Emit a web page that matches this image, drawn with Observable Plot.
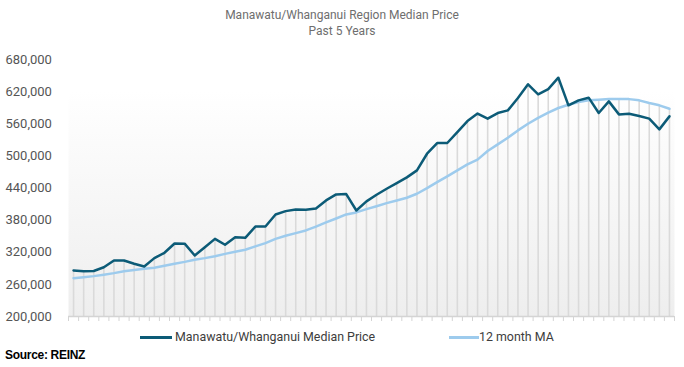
<!DOCTYPE html>
<html>
<head>
<meta charset="utf-8">
<script src="https://cdn.jsdelivr.net/npm/d3@7"></script>
<script src="https://cdn.jsdelivr.net/npm/@observablehq/plot@0.6"></script>
<style>
  html, body { margin: 0; padding: 0; background: #fff; }
  body { width: 684px; height: 367px; position: relative; overflow: hidden; font-family: Roboto, "Liberation Sans", sans-serif; }
  #title { position: absolute; left: 0; top: 7px; width: 684px; text-align: center; color: #6e6e6e; font-size: 12px; line-height: 16px; }
  #chart { position: absolute; left: 0; top: 45px; }
  .leg { position: absolute; top: 329px; font-size: 12.4px; line-height: 16px; color: #3d3d3d; white-space: nowrap; }
  .sw { position: absolute; height: 3px; top: 336px; }
  #source { position: absolute; left: 5px; top: 348px; font-size: 12px; font-weight: bold; color: #000; font-family: "Liberation Sans", Arial, sans-serif; letter-spacing: -0.3px; }
</style>
</head>
<body>
<div id="title">Manawatu/Whanganui Region Median Price<br>Past 5 Years</div>
<div id="chart"></div>
<div class="sw" style="left:140px;width:32px;background:#0c5b77"></div>
<div class="leg" style="left:175px">Manawatu/Whanganui Median Price</div>
<div class="sw" style="left:449px;width:30px;background:#9dcbed"></div>
<div class="leg" style="left:479px">12 month MA</div>
<div id="source">Source: REINZ</div>
<script>
// 60 monthly observations (past 5 years)
const months = d3.range(60);
const median = [286000, 284700, 285000, 292000, 304700, 304700, 298500, 293500, 309000, 319000,
  336400, 336000, 314000, 329500, 345000, 334000, 348000, 347000, 368000, 368000,
  390600, 396800, 400000, 399400, 401900, 416800, 428000, 428600, 398000, 415000,
  427400, 438600, 449000, 459800, 472900, 504000, 523900, 524000, 544500, 565000,
  579000, 569500, 580000, 585000, 608000, 633600, 615000, 624800, 646000, 594400,
  603700, 608700, 580000, 601800, 577500, 578800, 574400, 569500, 549500, 573800];
const ma = [271600, 273500, 275400, 278000, 281000, 284700, 287000, 289000, 291000, 294700,
  298500, 302000, 306000, 309000, 312700, 317000, 321000, 324700, 331000, 337000,
  345000, 350800, 355700, 360700, 368000, 375700, 383000, 390600, 394400, 400600,
  406000, 411800, 416800, 421800, 429300, 439800, 451000, 461700, 472900, 484000,
  493000, 509000, 521500, 534000, 547600, 560000, 571000, 580700, 589400, 595600,
  600500, 603700, 605000, 606000, 606000, 606000, 603700, 598700, 594400, 588000];
const yTicks = [200000, 260000, 320000, 380000, 440000, 500000, 560000, 620000, 680000];

const rows = months.map((m, i) => ({m, median: median[i], ma: ma[i]}));
const bounds = d3.range(61).map(i => i - 0.5);

const gradient = () => {
  const defs = d3.create("svg:defs");
  const g = defs.append("linearGradient").attr("id", "bgGrad")
    .attr("x1", 0).attr("y1", 0).attr("x2", 0).attr("y2", 1);
  g.append("stop").attr("offset", "0%").attr("stop-color", "#ffffff");
  g.append("stop").attr("offset", "12%").attr("stop-color", "#ffffff");
  g.append("stop").attr("offset", "100%").attr("stop-color", "#eeeeee");
  return defs.node();
};

const chart = Plot.plot({
  width: 684,
  height: 279,
  marginTop: 14,
  marginBottom: 8,
  marginLeft: 68,
  marginRight: 10,
  style: {background: "transparent", fontFamily: "Roboto, 'Liberation Sans', sans-serif", fontSize: "13px", overflow: "visible"},
  x: {type: "linear", domain: [-0.5, 59.5]},
  y: {domain: [200000, 680000]},
  marks: [
    gradient,
    Plot.frame({fill: "url(#bgGrad)", stroke: null}),
    Plot.ruleX(rows, {x: "m", y1: 200000, y2: d => Math.max(d.median, d.ma), stroke: "#dadada", strokeWidth: 1.6}),
    Plot.ruleY([200000], {stroke: "#d4d4d4", strokeWidth: 1.5}),
    Plot.axisX({ticks: bounds, tickFormat: () => "", tickSize: 5, stroke: "#d4d4d4", label: null}),
    Plot.axisY({ticks: yTicks, tickFormat: d3.format(","), tickSize: 0, tickPadding: 0, textAnchor: "start", dx: -63, fill: "#555", fontSize: 13, label: null}),
    Plot.line(rows, {x: "m", y: "ma", stroke: "#9dcbed", strokeWidth: 2.5}),
    Plot.line(rows, {x: "m", y: "median", stroke: "#0c5b77", strokeWidth: 2.5})
  ]
});
document.getElementById("chart").appendChild(chart);
</script>
</body>
</html>
